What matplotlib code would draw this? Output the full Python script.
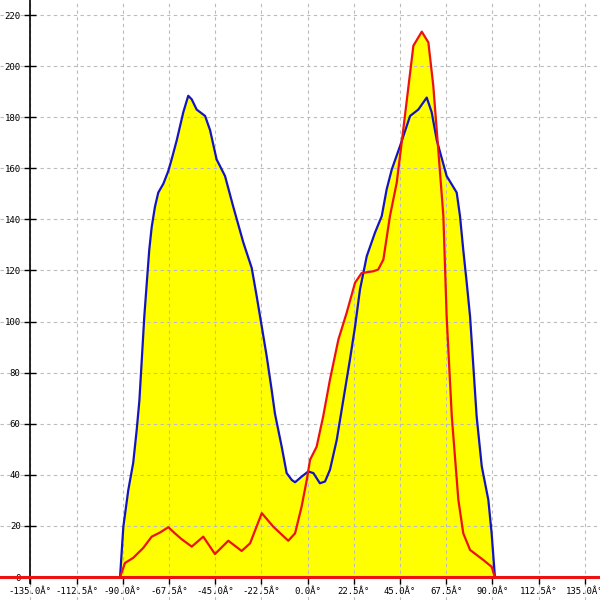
import matplotlib.pyplot as plt
import numpy as np

# blue series (angle in degrees, value)
blue_deg = [-91.3, -89.7, -87.3, -84.9, -83.2, -81.9, -80.8, -79.5, -78.3, -77.1,
            -75.9, -74.3, -72.7, -70.2, -67.8, -66.2, -63.7, -60.5, -58.1, -56.4,
            -54.0, -49.9, -47.5, -44.3, -40.2, -36.2, -31.3, -27.2, -24.8, -22.3,
            -19.9, -17.5, -15.9, -12.6, -10.2, -7.7, -6.1, -2.9, 0.3, 2.8,
            6.0, 8.5, 10.9, 14.2, 17.4, 20.6, 23.1, 25.5, 28.8, 32.8,
            36.1, 38.5, 41.0, 45.0, 49.9, 53.9, 58.0, 60.4, 62.9, 67.7,
            72.6, 74.2, 75.8, 77.5, 79.1, 80.7, 82.3, 84.8, 88.0, 89.6, 91.2]
blue_val = [0, 19.7, 34, 44.7, 57.6, 69, 84, 102, 115, 128,
            137, 145, 150.5, 154, 159, 163.5, 171, 182, 188.4, 187,
            183, 180.5, 175, 163.5, 157, 145, 131, 121, 110, 98,
            86.4, 73.3, 64, 51, 40.7, 38, 37.1, 39.3, 41.3, 40.7,
            36.7, 37.4, 42, 53.7, 69.4, 85, 98, 112.5, 125.6, 134.8,
            141.3, 151.8, 159.6, 168.7, 180.5, 183, 187.7, 182, 171, 157,
            150.5, 141.3, 128, 115, 102, 82.5, 62.9, 43.3, 30.2, 17.1, 0]

# red series
red_deg = [-91.3, -88.9, -84.9, -80.0, -75.9, -71.9, -67.8, -64.6, -61.3, -56.4,
           -50.8, -45.1, -38.6, -32.1, -28.0, -22.3, -16.7, -9.4, -6.1, -2.9,
           -0.4, 1.2, 4.4, 7.6, 10.9, 15.0, 19.0, 23.1, 26.3, 32.0,
           34.4, 36.9, 40.1, 43.4, 46.6, 51.5, 55.6, 58.8, 61.2, 63.6,
           66.1, 67.7, 70.2, 73.4, 75.8, 79.1, 85.5, 89.6, 91.2]
red_val = [0, 5.5, 7.5, 11.4, 15.8, 17.4, 19.5, 17.1, 14.8, 11.9,
           15.8, 9, 14.2, 10.2, 13.2, 25, 19.7, 14.2, 17.1, 27.6,
           38, 45.9, 51, 62.9, 77.3, 93, 103.4, 115.2, 119, 119.7,
           120.4, 124.3, 141.3, 154.4, 175.3, 208, 213.5, 209.3, 192.3, 167.5,
           141.3, 102, 62.9, 30.2, 17.1, 10.6, 6.7, 4, 0]

x_ticks = np.arange(-135, 135.1, 22.5)
y_ticks = np.arange(0, 221, 20)

fig = plt.figure(figsize=(6, 6), dpi=100)
ax = fig.add_axes([0, 0, 1, 1])
ax.set_xlim(-149.75, 142.36)
ax.set_ylim(-9.0, 225.9)

# yellow area under both curves
ax.fill_between(blue_deg, 0, blue_val, color="#ffff00", lw=0, zorder=1)
ax.fill_between(red_deg, 0, red_val, color="#ffff00", lw=0, zorder=1)

ax.plot(blue_deg, blue_val, color="#1414c0", lw=1.6, zorder=3)
ax.plot(red_deg, red_val, color="#ee1111", lw=1.6, zorder=4)
ax.axhline(0, color="#ee1111", lw=2.2, zorder=4)

# axes through the origin of the labelled range
for s in ["top", "right"]:
    ax.spines[s].set_visible(False)
ax.spines["left"].set_position(("data", -135))
ax.spines["left"].set_bounds(-2.4, 225.9)
ax.spines["bottom"].set_position(("data", 0))
ax.spines["left"].set_linewidth(1.2)

ax.set_xticks(x_ticks)
ax.set_xticklabels([f"{v:.1f}Â°" for v in x_ticks])
ax.set_yticks(y_ticks)
ax.set_yticklabels([str(v) for v in y_ticks])
ax.tick_params(axis="x", direction="out", length=5, width=1, pad=2,
               labelsize=6.5)
ax.tick_params(axis="y", direction="inout", length=8, width=1, pad=3,
               labelsize=6.5)
for lab in ax.get_xticklabels() + ax.get_yticklabels():
    lab.set_family("DejaVu Sans Mono")

ax.grid(True, color="#bbbbbb", linestyle=(0, (3, 3)), linewidth=0.8)
ax.set_axisbelow("line")

fig.savefig("out.png", dpi=100)
